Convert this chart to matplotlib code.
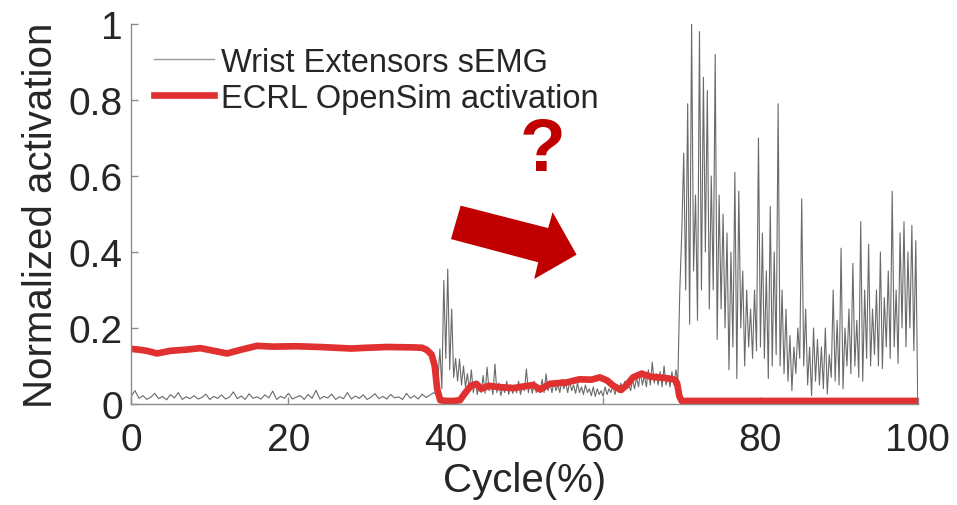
import numpy as np
import matplotlib
matplotlib.use('Agg')
import matplotlib.pyplot as plt
from matplotlib.patches import Polygon

# sEMG, quiet part (0 - 38.5 %)
emg_quiet = [0.02, 0.035, 0.015, 0.022, 0.012, 0.018, 0.028, 0.014, 0.02, 0.011,
             0.025, 0.016, 0.03, 0.012, 0.019, 0.014, 0.022, 0.013, 0.017, 0.026,
             0.012, 0.02, 0.015, 0.024, 0.013, 0.018, 0.032, 0.014, 0.021, 0.012,
             0.027, 0.015, 0.019, 0.013, 0.024, 0.016, 0.034, 0.012, 0.02, 0.015,
             0.028, 0.013, 0.018, 0.022, 0.012, 0.025, 0.015, 0.036, 0.013, 0.02,
             0.016, 0.026, 0.012, 0.019, 0.014, 0.03, 0.013, 0.021, 0.015, 0.024,
             0.012, 0.018, 0.027, 0.014, 0.02, 0.013, 0.025, 0.016, 0.019, 0.012,
             0.028, 0.015, 0.022, 0.013, 0.026, 0.017, 0.024, 0.03]
# sEMG, 38.75 - 69.5 %
emg_mid = [0.025, 0.06, 0.145, 0.04, 0.325, 0.12, 0.355, 0.09, 0.25, 0.07,
           0.12, 0.06, 0.118, 0.05, 0.1, 0.045, 0.08, 0.035, 0.09, 0.03,
           0.06, 0.025, 0.05, 0.03, 0.075, 0.028, 0.097, 0.035, 0.05, 0.025,
           0.105, 0.03, 0.055, 0.022, 0.045, 0.03, 0.06, 0.025, 0.05, 0.028,
           0.045, 0.03, 0.06, 0.025, 0.05, 0.035, 0.092, 0.03, 0.055, 0.028,
           0.06, 0.03, 0.05, 0.035, 0.065, 0.03, 0.079, 0.035, 0.055, 0.03,
           0.06, 0.035, 0.05, 0.03, 0.065, 0.04, 0.055, 0.03, 0.06, 0.035,
           0.05, 0.028, 0.055, 0.03, 0.045, 0.025, 0.05, 0.03, 0.04, 0.022,
           0.045, 0.02, 0.04, 0.025, 0.035, 0.02, 0.045, 0.025, 0.04, 0.03,
           0.05, 0.025, 0.045, 0.03, 0.055, 0.035, 0.06, 0.04, 0.05, 0.035,
           0.065, 0.04, 0.07, 0.045, 0.085, 0.05, 0.075, 0.045, 0.09, 0.05,
           0.11, 0.055, 0.08, 0.05, 0.085, 0.045, 0.1, 0.05, 0.075, 0.045,
           0.085, 0.05, 0.09, 0.06]
# sEMG, 69.75 - 100 %
emg_late = [0.3, 0.45, 0.66, 0.3, 0.79, 0.21, 1.0, 0.35, 0.55, 0.22,
            0.98, 0.3, 0.86, 0.4, 0.825, 0.25, 0.6, 0.3, 0.92, 0.17,
            0.55, 0.25, 0.5, 0.2, 0.45, 0.09, 0.4, 0.15, 0.61, 0.067,
            0.56, 0.2, 0.35, 0.1, 0.3, 0.15, 0.25, 0.12, 0.3, 0.14,
            0.7, 0.15, 0.45, 0.12, 0.35, 0.067, 0.52, 0.1, 0.4, 0.13,
            0.79, 0.1, 0.3, 0.08, 0.25, 0.06, 0.18, 0.035, 0.15, 0.08,
            0.2, 0.12, 0.54, 0.1, 0.25, 0.05, 0.15, 0.022, 0.2, 0.06,
            0.17, 0.05, 0.15, 0.04, 0.2, 0.026, 0.13, 0.07, 0.3, 0.06,
            0.22, 0.05, 0.41, 0.04, 0.2, 0.1, 0.25, 0.08, 0.37, 0.1,
            0.22, 0.07, 0.48, 0.06, 0.3, 0.12, 0.42, 0.1, 0.25, 0.13,
            0.3, 0.1, 0.4, 0.093, 0.28, 0.15, 0.35, 0.12, 0.56, 0.15,
            0.3, 0.107, 0.45, 0.2, 0.48, 0.15, 0.4, 0.2, 0.47, 0.14,
            0.43, 0.0]

# OpenSim ECRL activation
act_x = [0, 1, 2, 3.3, 5, 7, 8.8, 10.5, 12.2, 14, 16, 18, 21, 24, 28, 30,
         32.5, 35.8, 37, 37.6, 38.2, 38.6, 38.9, 39.3, 40, 41, 41.8, 42.5,
         43.2, 43.9, 44.5, 45.5, 46.5, 48.6, 51.1, 52, 53.2, 55.4, 57, 58.5,
         59.6, 60.5, 61.3, 62.3, 63, 63.8, 64.9, 66, 68.1, 69.1, 69.4, 69.7,
         70, 80, 90, 100]
act_y = [0.145, 0.143, 0.14, 0.133, 0.14, 0.143, 0.147, 0.14, 0.133, 0.143,
         0.153, 0.151, 0.152, 0.15, 0.146, 0.148, 0.15, 0.149, 0.148, 0.142,
         0.13, 0.1, 0.04, 0.01, 0.008, 0.008, 0.01, 0.03, 0.048, 0.053,
         0.04, 0.048, 0.045, 0.042, 0.05, 0.038, 0.053, 0.057, 0.065, 0.064,
         0.07, 0.062, 0.048, 0.037, 0.05, 0.07, 0.08, 0.072, 0.068, 0.064,
         0.055, 0.02, 0.008, 0.008, 0.008, 0.008]

x_ticks = [0, 20, 40, 60, 80, 100]
y_ticks = [0, 0.2, 0.4, 0.6, 0.8, 1]
y_ticklabels = ['0', '0.2', '0.4', '0.6', '0.8', '1']

GRAY = '#6a6a6a'
RED = '#e0302f'
DARKRED = '#c00000'
AXCOL = '#8c8c8c'
TXT = '#262626'
plt.rcParams['font.family'] = ['Liberation Sans', 'DejaVu Sans']

x_quiet = np.linspace(0, 38.5, len(emg_quiet))
x_mid = np.linspace(38.75, 69.5, len(emg_mid))
x_late = np.linspace(69.75, 100, len(emg_late))
emg_x = np.concatenate([x_quiet, x_mid, x_late])
emg_y = np.concatenate([emg_quiet, emg_mid, emg_late])

fig = plt.figure(figsize=(9.57, 5.06), dpi=100)
ax = fig.add_axes([0.137, 0.1996, 0.822, 0.751])

ax.plot(emg_x, emg_y, color=GRAY, lw=0.8, label='Wrist Extensors sEMG')
ax.plot(act_x, act_y, color=RED, lw=4.8, solid_joinstyle='round',
        label='ECRL OpenSim activation')

ax.set_xlim(0, 100)
ax.set_ylim(0, 1)
ax.set_xticks(x_ticks)
ax.set_yticks(y_ticks)
ax.set_yticklabels(y_ticklabels)
for s in ['top', 'right']:
    ax.spines[s].set_visible(False)
for s in ['left', 'bottom']:
    ax.spines[s].set_color(AXCOL)
    ax.spines[s].set_linewidth(1.0)
ax.tick_params(direction='in', length=5, width=1.0, color=AXCOL,
               labelcolor=TXT, labelsize=28)
ax.tick_params(axis='x', pad=13)
ax.tick_params(axis='y', pad=6)

ax.set_xlabel('Cycle(%)', fontsize=29, color=TXT, labelpad=2)
ax.set_ylabel('Normalized activation', fontsize=29, color=TXT, labelpad=6)

leg = ax.legend(loc='upper left', bbox_to_anchor=(0.0, 1.0), frameon=False,
                fontsize=23.5, handlelength=1.85, handletextpad=0.2,
                labelspacing=0.15, borderaxespad=0.3)
for t in leg.get_texts():
    t.set_color(TXT)
leg.get_lines()[0].set_color('#9a9a9a')
leg.get_lines()[0].set_linewidth(1.0)

# red arrow and question mark
arrow_pts = [(41.89, 0.522), (40.66, 0.434), (51.75, 0.373), (51.24, 0.329),
             (56.63, 0.393), (53.58, 0.505), (53.02, 0.463)]
ax.add_patch(Polygon(arrow_pts, closed=True, facecolor=DARKRED,
                     edgecolor='none', zorder=5))
ax.text(52.35, 0.666, '?', color=DARKRED, fontsize=54, fontweight='bold',
        ha='center', va='center', zorder=5)

fig.savefig('out.png', dpi=100)
